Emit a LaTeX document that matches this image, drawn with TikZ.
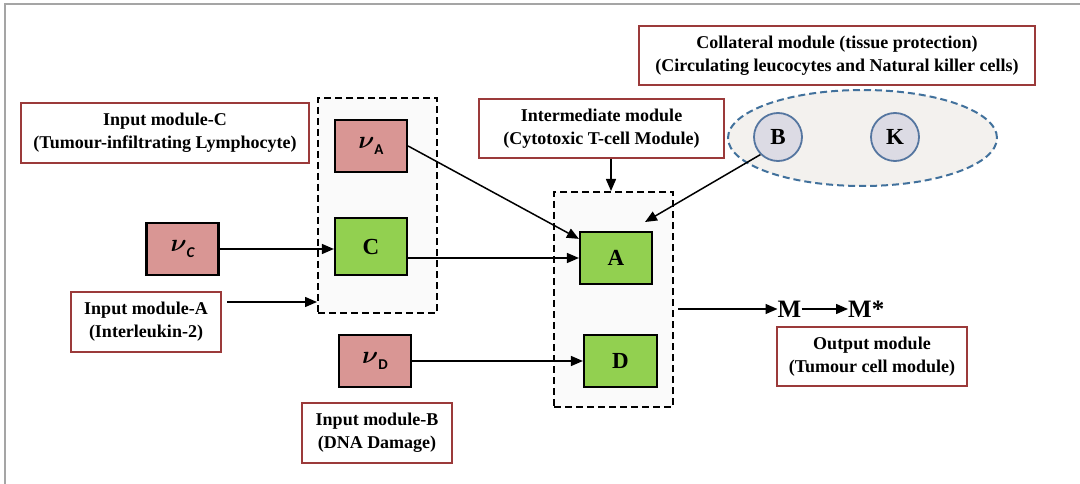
\documentclass[tikz,border=0pt]{standalone}
\usepackage{fontspec}
\setmainfont{Liberation Serif}
\newfontfamily\calib{Carlito}
\usetikzlibrary{arrows.meta,shapes.geometric}
\definecolor{pinkc}{RGB}{217,150,148}
\definecolor{greenc}{RGB}{146,208,80}
\definecolor{lblred}{RGB}{155,58,58}
\definecolor{dashfill}{RGB}{250,250,250}
\definecolor{ellfill}{RGB}{243,241,238}
\definecolor{ellb}{RGB}{65,113,156}
\definecolor{cellf}{RGB}{220,219,228}
\definecolor{cellb}{RGB}{85,118,160}
\definecolor{framec}{RGB}{165,165,165}
\newcommand\nusub[1]{{\boldmath$\nu$}\raisebox{-6pt}{\fontsize{15}{15}\selectfont\calib\bfseries #1}}
\tikzset{
  lbl/.style={draw=lblred, line width=1.6pt, fill=white, align=center, inner sep=0pt,
    font=\fontsize{18}{23}\selectfont\bfseries},
  pbox/.style={draw=black, line width=2.2pt, fill=pinkc, inner sep=0pt,
    minimum width=72pt, minimum height=52pt, font=\fontsize{25}{25}\selectfont},
  gbox/.style={draw=black, line width=2.2pt, fill=greenc, inner sep=0pt,
    minimum width=72pt, minimum height=52pt, font=\fontsize{23}{23}\selectfont\bfseries},
  dbox/.style={draw=black, dash pattern=on 7pt off 4pt, line width=2pt, fill=dashfill,
    minimum width=119pt, minimum height=215pt, inner sep=0pt},
  arr/.style={-{Triangle[length=12pt,width=10pt]}, line width=1.5pt},
  cell/.style={circle, draw=cellb, line width=1.8pt, fill=cellf, minimum size=48pt,
    inner sep=0pt, font=\fontsize{23}{23}\selectfont\bfseries},
  mtxt/.style={inner sep=0pt, font=\fontsize{25}{25}\selectfont\bfseries}
}
\begin{document}
\begin{tikzpicture}[x=1pt,y=-1pt]
\useasboundingbox (0,0) rectangle (1080,484);
\fill[white] (0,0) rectangle (1080,484);
\draw[framec, line width=2pt] (5,490) -- (5,4) -- (1085,4);

% dashed module boxes
\node[dbox] (dashL) at (377.5,205.5) {};
\node[dbox] (dashM) at (613.5,299.5) {};

% collateral ellipse
\node[ellipse, draw=ellb, fill=ellfill, line width=2pt, dash pattern=on 7pt off 4pt,
  minimum width=269pt, minimum height=96pt] (ell) at (862.5,138) {};
\node[cell] (B) at (778,137) {B};
\node[cell] (K) at (895,137) {K};

% labels
\node[lbl, minimum width=288pt, minimum height=60pt] (lblC) at (165,133)
  {Input module-C\\(Tumour-infiltrating Lymphocyte)};
\node[lbl, minimum width=150pt, minimum height=60pt] (lblA) at (146,322)
  {Input module-A\\(Interleukin-2)};
\node[lbl, minimum width=150pt, minimum height=60pt] (lblB) at (377,433)
  {Input module-B\\(DNA Damage)};
\node[lbl, minimum width=245pt, minimum height=59pt] (lblI) at (601.5,128.5)
  {Intermediate module\\(Cytotoxic T-cell Module)};
\node[lbl, minimum width=396pt, minimum height=59pt] (lblCol) at (837,55.5)
  {Collateral module (tissue protection)\\(Circulating leucocytes and Natural killer cells)};
\node[lbl, minimum width=190pt, minimum height=59pt] (lblO) at (872,356.5)
  {Output module\\(Tumour cell module)};

% species boxes
\node[pbox] (nuA) at (371,146) {\nusub{A}};
\node[pbox] (nuC) at (182.5,249) {\nusub{\itshape C}};
\node[pbox] (nuD) at (375,361) {\nusub{D}};
\node[gbox, minimum height=57pt] (C) at (371,246.5) {C};
\node[gbox] (A) at (616,258) {A};
\node[gbox, minimum width=73pt] (D) at (620.5,361) {D};

% output species
\node[mtxt] (M) at (789.5,309) {M};
\node[mtxt, anchor=west] (Ms) at (848,309) {M*};

% coordinates
\coordinate (aIn) at (227,302);
\coordinate (bTip) at (645,222);
\coordinate (outS) at (678,309);

% connectors
\draw[arr] (nuC.east) -- (nuC.east -| C.west);
\draw[arr] (aIn) -- (aIn -| dashL.west);
\draw[arr] (C.east |- A) -- (A.west);
\draw[arr] (nuA.east) -- ([yshift=-8pt]A.north west);
\draw[arr] (B.south west) -- (bTip);
\draw[arr] (lblI.south -| 611,0) -- (dashM.north -| 611,0);
\draw[arr] (nuD.east) -- (nuD.east -| D.west);
\draw[arr] (outS) -- (M.west);
\draw[arr] (M.east) -- (Ms.west);
\end{tikzpicture}
\end{document}
